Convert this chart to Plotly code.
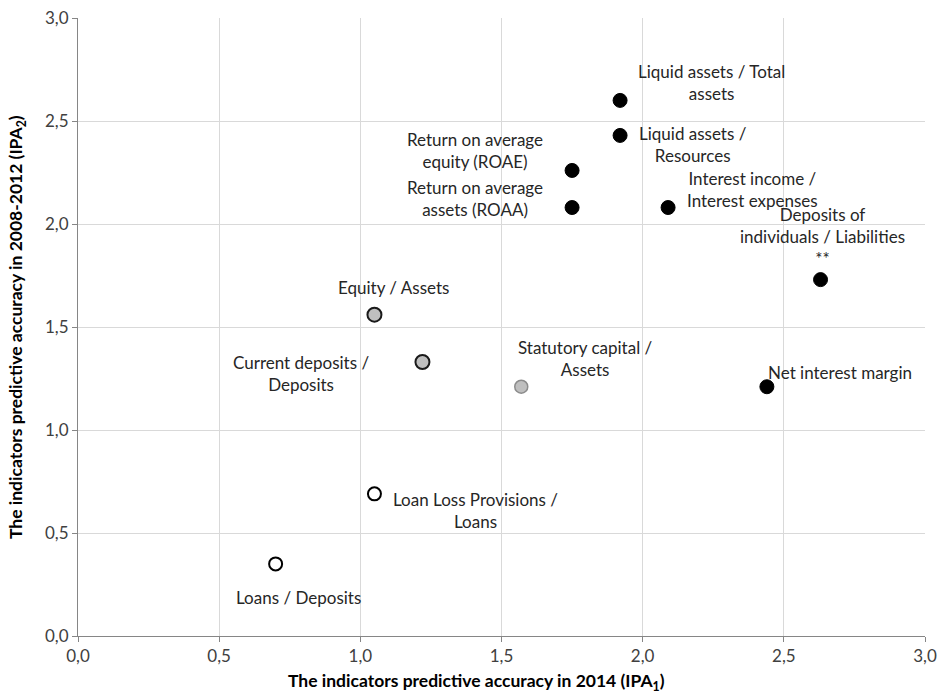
import plotly.graph_objects as go

# ---- data ----
labels = [
    "Liquid assets / Total<br>assets",
    "Liquid assets /<br>Resources",
    "Return on average<br>equity (ROAE)",
    "Return on average<br>assets (ROAA)",
    "Interest income /<br>Interest expenses",
    "Deposits of<br>individuals / Liabilities<br>**",
    "Net interest margin",
    "Equity / Assets",
    "Current deposits /<br>Deposits",
    "Statutory capital /<br>Assets",
    "Loan Loss Provisions /<br>Loans",
    "Loans / Deposits",
]
ipa1_2014 = [1.92, 1.92, 1.75, 1.75, 2.09, 2.63, 2.44, 1.05, 1.22, 1.57, 1.05, 0.70]
ipa2_2008_2012 = [2.60, 2.43, 2.26, 2.08, 2.08, 1.73, 1.21, 1.56, 1.33, 1.21, 0.69, 0.35]
group = ["high", "high", "high", "high", "high", "high", "high",
         "mid", "mid", "mid_light", "low", "low"]
axis_ticks = [0, 0.5, 1.0, 1.5, 2.0, 2.5, 3.0]
x_title = "<b>The indicators predictive accuracy in 2014 (IPA<sub>1</sub>)</b>"
y_title = "<b>The indicators predictive accuracy in 2008-2012 (IPA<sub>2</sub>)</b>"

# ---- label placement (pixel offsets from the point) ----
label_dx = [91, 73, -97, -97, 84, 2, 73, 19, -121, 64, 101, 23]
label_dy = [18, -9, 20, 9, 18, 43, 14, 27, -11, 28, -17, -34]

styles = {
    "high": dict(size=14, color="#000000", line=dict(color="#000000", width=1)),
    "mid": dict(size=14, color="#bfbfbf", line=dict(color="#1a1a1a", width=2)),
    "mid_light": dict(size=13, color="#bfbfbf", line=dict(color="#8c8c8c", width=1.5)),
    "low": dict(size=13, color="#ffffff", line=dict(color="#000000", width=2)),
}

FONT = "Lato, 'Open Sans', sans-serif"

fig = go.Figure()
for g, st in styles.items():
    xs = [x for x, gg in zip(ipa1_2014, group) if gg == g]
    ys = [y for y, gg in zip(ipa2_2008_2012, group) if gg == g]
    fig.add_trace(go.Scatter(x=xs, y=ys, mode="markers", marker=st,
                             showlegend=False, hoverinfo="x+y"))

for lab, x, y, dx, dy in zip(labels, ipa1_2014, ipa2_2008_2012, label_dx, label_dy):
    fig.add_annotation(x=x, y=y, text=lab, showarrow=False, xshift=dx, yshift=dy,
                       xanchor="center", yanchor="middle", align="center",
                       font=dict(family=FONT, size=17, color="#262626"))

# axis titles as annotations for exact placement
fig.add_annotation(xref="paper", yref="paper", x=0.47, y=0, yshift=-46,
                   xanchor="center", yanchor="middle", showarrow=False, text=x_title,
                   font=dict(family=FONT, size=17.5, color="#000000"))
fig.add_annotation(xref="paper", yref="paper", x=0, y=0.5, xshift=-61,
                   xanchor="center", yanchor="middle", showarrow=False, text=y_title,
                   textangle=-90, font=dict(family=FONT, size=17.5, color="#000000"))

axis_common = dict(
    range=[0, 3.0], tickvals=axis_ticks, tickformat=".1f",
    showgrid=True, gridcolor="#d9d9d9", gridwidth=1,
    showline=True, linecolor="#868686", linewidth=1,
    ticks="outside", ticklen=5, tickcolor="#868686",
    zeroline=False, tickfont=dict(family=FONT, size=17, color="#404040"),
    automargin=False,
)

fig.update_xaxes(**axis_common)
fig.update_yaxes(**axis_common)

fig.update_layout(
    width=940, height=693,
    margin=dict(l=78, r=15, t=18, b=57),
    plot_bgcolor="#ffffff", paper_bgcolor="#ffffff",
    separators=", ",
    font=dict(family=FONT),
)

fig.write_html(
    "out.html",
    config={"displayModeBar": False},
    post_script="document.body.style.margin='0';document.body.style.overflow='hidden';",
)
